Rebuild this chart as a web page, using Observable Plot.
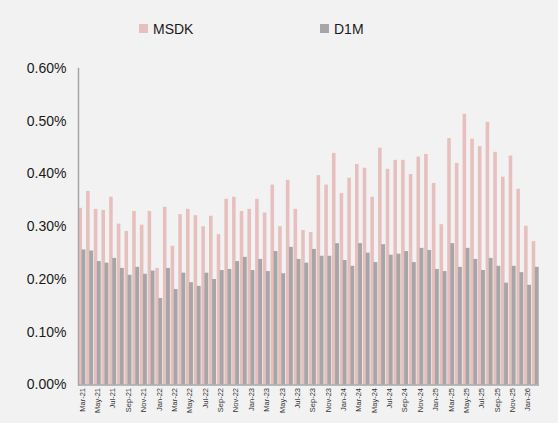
<!DOCTYPE html>
<html>
<head>
<meta charset="utf-8">
<script src="https://cdn.jsdelivr.net/npm/d3@7"></script>
<script src="https://cdn.jsdelivr.net/npm/@observablehq/plot@0.6"></script>
<style>
  html, body { margin: 0; padding: 0; background: #f2f2f2; }
  body { width: 558px; height: 423px; overflow: hidden; font-family: "Liberation Sans", Arial, sans-serif; }
  #legend { position: relative; height: 56px; }
  .item { position: absolute; top: 20px; height: 17px; font-size: 14px; color: #1a1a1a; display: flex; align-items: center; }
  .sw { width: 9px; height: 9px; margin-right: 5px; }
  #chart svg { display: block; }
</style>
</head>
<body>
<div id="legend"></div>
<div id="chart"></div>
<script>
const months = [
  "Mar-21","Apr-21","May-21","Jun-21","Jul-21","Aug-21","Sep-21","Oct-21","Nov-21","Dec-21",
  "Jan-22","Feb-22","Mar-22","Apr-22","May-22","Jun-22","Jul-22","Aug-22","Sep-22","Oct-22","Nov-22","Dec-22",
  "Jan-23","Feb-23","Mar-23","Apr-23","May-23","Jun-23","Jul-23","Aug-23","Sep-23","Oct-23","Nov-23","Dec-23",
  "Jan-24","Feb-24","Mar-24","Apr-24","May-24","Jun-24","Jul-24","Aug-24","Sep-24","Oct-24","Nov-24","Dec-24",
  "Jan-25","Feb-25","Mar-25","Apr-25","May-25","Jun-25","Jul-25","Aug-25","Sep-25","Oct-25","Nov-25","Dec-25",
  "Jan-26","Feb-26"
];
// values in percent
const msdk = [
  0.335,0.367,0.333,0.331,0.356,0.305,0.291,0.329,0.303,0.329,
  0.221,0.337,0.263,0.323,0.333,0.321,0.300,0.320,0.285,0.352,0.356,0.329,
  0.333,0.352,0.326,0.379,0.300,0.388,0.333,0.293,0.289,0.397,0.379,0.439,
  0.363,0.392,0.418,0.411,0.356,0.449,0.409,0.426,0.426,0.399,0.432,0.437,
  0.382,0.304,0.467,0.420,0.513,0.466,0.452,0.498,0.441,0.394,0.434,0.371,
  0.301,0.272
];
const d1m = [
  0.256,0.254,0.234,0.231,0.240,0.221,0.208,0.223,0.210,0.216,
  0.164,0.221,0.181,0.212,0.194,0.187,0.212,0.200,0.217,0.219,0.234,0.242,
  0.217,0.238,0.215,0.253,0.211,0.261,0.238,0.231,0.257,0.244,0.244,0.268,
  0.236,0.225,0.268,0.250,0.232,0.266,0.246,0.248,0.253,0.232,0.259,0.255,
  0.219,0.215,0.268,0.223,0.259,0.238,0.217,0.240,0.225,0.193,0.225,0.213,
  0.189,0.223
];
const seriesNames = ["MSDK", "D1M"];
const seriesColors = ["#e8bfbf", "#a6a6a6"];
const yTicks = [0, 0.1, 0.2, 0.3, 0.4, 0.5, 0.6];
const xTickLabels = months.filter((m, i) => i % 2 === 0);

const data = months.map((m, i) => ({month: m, msdk: msdk[i], d1m: d1m[i]}));

// legend (HTML, above the SVG)
const legend = document.getElementById("legend");
const legendLeft = [139, 320];
seriesNames.forEach((name, i) => {
  const item = document.createElement("div");
  item.className = "item";
  item.style.left = legendLeft[i] + "px";
  item.innerHTML = `<span class="sw" style="background:${seriesColors[i]}"></span><span>${name}</span>`;
  legend.appendChild(item);
});

const chart = Plot.plot({
  width: 558,
  height: 367,
  marginLeft: 78,
  marginRight: 19,
  marginTop: 12,
  marginBottom: 38.5,
  style: {background: "#f2f2f2", fontFamily: "'Liberation Sans', Arial, sans-serif", color: "#1a1a1a"},
  x: {type: "band", domain: months, padding: 0},
  y: {domain: [0, 0.6]},
  marks: [
    Plot.barY(data, {x: "month", y: "msdk", fill: seriesColors[0], insetLeft: 0.4, insetRight: 3.7}),
    Plot.barY(data, {x: "month", y: "d1m", fill: seriesColors[1], insetLeft: 3.5, insetRight: 0.3}),
    Plot.axisY({ticks: yTicks, tickFormat: d => d.toFixed(2) + "%", tickSize: 0, tickPadding: 12, fontSize: 14, label: null}),
    Plot.axisX({ticks: xTickLabels, tickSize: 0, tickRotate: -90, tickPadding: 3, fontSize: 7.5, fill: "#333", label: null}),
    Plot.frame({anchor: "left", stroke: "#a6a6a6", strokeWidth: 1.5}),
    Plot.ruleY([0], {stroke: "#a6a6a6", strokeWidth: 1.5})
  ]
});
document.getElementById("chart").appendChild(chart);
</script>
</body>
</html>
